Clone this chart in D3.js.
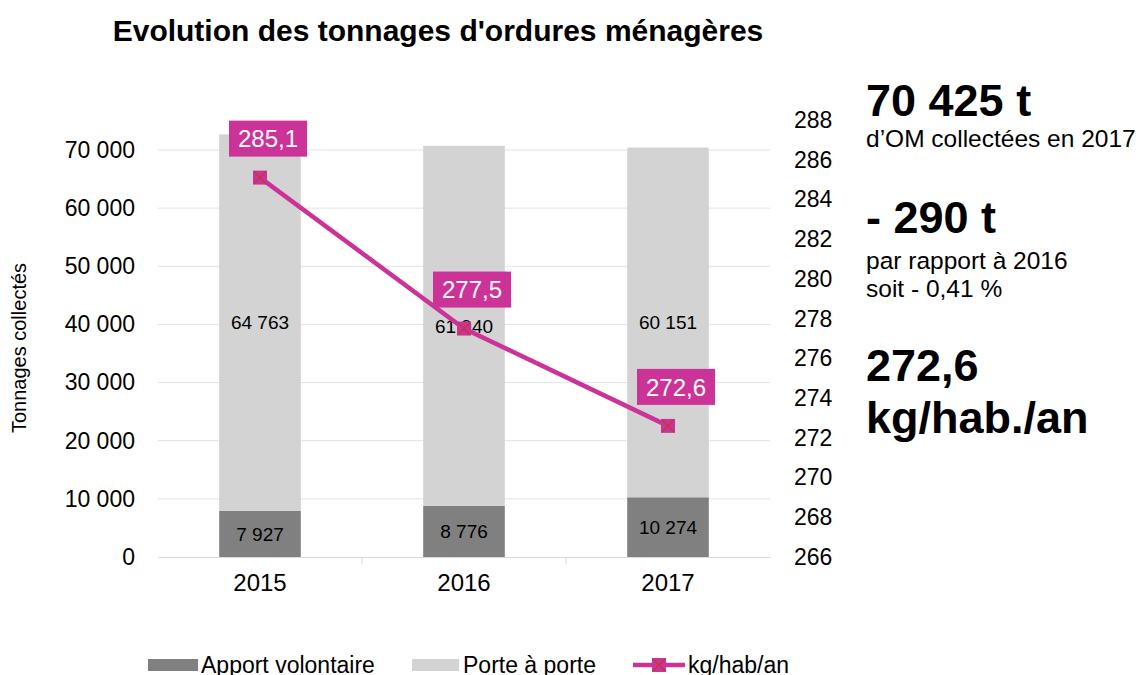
<html>
<head>
<script src="https://d3js.org/d3.v7.min.js"></script>
<style>
  body { margin: 0; background: #fff; }
  text { font-family: "Liberation Sans", Arial, sans-serif; }
</style>
</head>
<body>
<svg width="1145" height="675"></svg>
<script>
var years = ["2015", "2016", "2017"];
var apport = [7927, 8776, 10274];
var porte = [64763, 61940, 60151];
var kgHab = [285.1, 277.5, 272.6];
var leftTicks = [0, 10000, 20000, 30000, 40000, 50000, 60000, 70000];
var rightTicks = [266, 268, 270, 272, 274, 276, 278, 280, 282, 284, 286, 288];

var svg = d3.select("svg");
var plotLeft = 158, plotRight = 770, plotTop = 120, plotBottom = 557;
var magenta = "#CC3399";

var x = d3.scaleBand().domain(years).range([plotLeft, plotRight]).paddingInner(0.6).paddingOuter(0.3);
var y = d3.scaleLinear().domain([0, 70000]).range([plotBottom, 150]);
var y2 = d3.scaleLinear().domain([266, 288]).range([plotBottom, plotTop]);
var fmt = function(v) { return d3.format(",")(v).replace(/,/g, " "); };
var fmtDec = function(v) { return d3.format(".1f")(v).replace(".", ","); };

// gridlines
svg.append("g")
  .selectAll("line").data(leftTicks.slice(1)).join("line")
  .attr("x1", plotLeft).attr("x2", plotRight)
  .attr("y1", function(d) { return y(d); }).attr("y2", function(d) { return y(d); })
  .attr("stroke", "#e3e3e3").attr("stroke-width", 1);

// left axis
var ax = svg.append("g").attr("transform", "translate(" + plotLeft + ",0)")
  .call(d3.axisLeft(y).tickValues(leftTicks).tickSize(0).tickPadding(23).tickFormat(fmt));
ax.select(".domain").remove();
ax.selectAll("text").attr("font-size", 23).attr("fill", "#000");

// right axis
var ax2 = svg.append("g").attr("transform", "translate(" + plotRight + ",0)")
  .call(d3.axisRight(y2).tickValues(rightTicks).tickSize(0).tickPadding(24));
ax2.select(".domain").remove();
ax2.selectAll("text").attr("font-size", 23).attr("fill", "#000");

// x axis
var axX = svg.append("g").attr("transform", "translate(0," + plotBottom + ")")
  .call(d3.axisBottom(x).tickSize(0).tickPadding(17));
axX.select(".domain").attr("stroke", "#d9d9d9");
axX.selectAll("text").attr("font-size", 24).attr("fill", "#000");
svg.append("g").selectAll("line").data(years.slice(1)).join("line")
  .attr("x1", function(d) { return x(d) - x.step() * x.paddingInner() / 2; })
  .attr("x2", function(d) { return x(d) - x.step() * x.paddingInner() / 2; })
  .attr("y1", plotBottom).attr("y2", plotBottom + 7)
  .attr("stroke", "#d9d9d9");

// stacked bars
var bars = svg.append("g");
years.forEach(function(yr, i) {
  bars.append("rect")
    .attr("x", x(yr)).attr("width", x.bandwidth())
    .attr("y", y(apport[i])).attr("height", y(0) - y(apport[i]))
    .attr("fill", "#808080");
  bars.append("rect")
    .attr("x", x(yr)).attr("width", x.bandwidth())
    .attr("y", y(apport[i] + porte[i])).attr("height", y(apport[i]) - y(apport[i] + porte[i]))
    .attr("fill", "#d3d3d3");
  bars.append("text")
    .attr("x", x(yr) + x.bandwidth() / 2).attr("y", y(apport[i] / 2)).attr("dy", "0.35em")
    .attr("text-anchor", "middle").attr("font-size", 19).attr("fill", "#000")
    .text(fmt(apport[i]));
  bars.append("text")
    .attr("x", x(yr) + x.bandwidth() / 2).attr("y", y(apport[i] + porte[i] / 2)).attr("dy", "0.35em")
    .attr("text-anchor", "middle").attr("font-size", 19).attr("fill", "#000")
    .text(fmt(porte[i]));
});

// line
var cx = function(i) { return x(years[i]) + x.bandwidth() / 2; };
var line = d3.line().x(function(d, i) { return cx(i); }).y(function(d) { return y2(d); });
svg.append("path").datum(kgHab)
  .attr("fill", "none").attr("stroke", magenta).attr("stroke-width", 4.5)
  .attr("d", line);

function marker(g, px, py) {
  g.append("rect").attr("x", px - 7).attr("y", py - 7).attr("width", 14).attr("height", 14)
    .attr("fill", magenta);
  g.append("path")
    .attr("d", "M" + (px - 6) + "," + (py - 6) + "L" + (px + 6) + "," + (py + 6) +
               "M" + (px + 6) + "," + (py - 6) + "L" + (px - 6) + "," + (py + 6))
    .attr("stroke", "#c0392b").attr("stroke-width", 1.2);
}

var pts = svg.append("g");
kgHab.forEach(function(v, i) {
  marker(pts, cx(i), y2(v));
  var bx = cx(i) + 8, by = y2(v) - 39;
  pts.append("rect").attr("x", bx - 39).attr("y", by - 18).attr("width", 78).attr("height", 36)
    .attr("fill", magenta);
  pts.append("text").attr("x", bx).attr("y", by).attr("dy", "0.36em")
    .attr("text-anchor", "middle").attr("font-size", 24).attr("fill", "#fff")
    .text(fmtDec(v));
});

// titles
svg.append("text").attr("x", 438).attr("y", 41).attr("text-anchor", "middle")
  .attr("font-size", 30).attr("font-weight", "bold").attr("fill", "#000")
  .text("Evolution des tonnages d'ordures ménagères");
svg.append("text").attr("transform", "translate(26,348) rotate(-90)")
  .attr("text-anchor", "middle").attr("font-size", 20).attr("fill", "#000")
  .text("Tonnages collectés");

// side notes
var notes = [
  { t: "70 425 t", y: 116, size: 45, bold: true },
  { t: "d\u2019OM collectées en 2017", y: 147, size: 24.5, bold: false },
  { t: "- 290 t", y: 233, size: 45, bold: true },
  { t: "par rapport à 2016", y: 269, size: 24.5, bold: false },
  { t: "soit - 0,41 %", y: 297, size: 24.5, bold: false },
  { t: "272,6", y: 381, size: 45, bold: true },
  { t: "kg/hab./an", y: 433, size: 45, bold: true }
];
svg.append("g").selectAll("text").data(notes).join("text")
  .attr("x", 866).attr("y", function(d) { return d.y; })
  .attr("font-size", function(d) { return d.size; })
  .attr("font-weight", function(d) { return d.bold ? "bold" : "normal"; })
  .attr("fill", "#000")
  .text(function(d) { return d.t; });

// legend
var lg = svg.append("g");
lg.append("rect").attr("x", 148).attr("y", 659).attr("width", 50).attr("height", 12).attr("fill", "#808080");
lg.append("text").attr("x", 201).attr("y", 673).attr("font-size", 23).attr("fill", "#000").text("Apport volontaire");
lg.append("rect").attr("x", 412).attr("y", 659).attr("width", 47).attr("height", 12).attr("fill", "#d3d3d3");
lg.append("text").attr("x", 463).attr("y", 673).attr("font-size", 23).attr("fill", "#000").text("Porte à porte");
lg.append("line").attr("x1", 633).attr("x2", 685).attr("y1", 665).attr("y2", 665)
  .attr("stroke", magenta).attr("stroke-width", 4.5);
marker(lg, 659, 665);
lg.append("text").attr("x", 688).attr("y", 673).attr("font-size", 23).attr("fill", "#000").text("kg/hab/an");
</script>
</body>
</html>
